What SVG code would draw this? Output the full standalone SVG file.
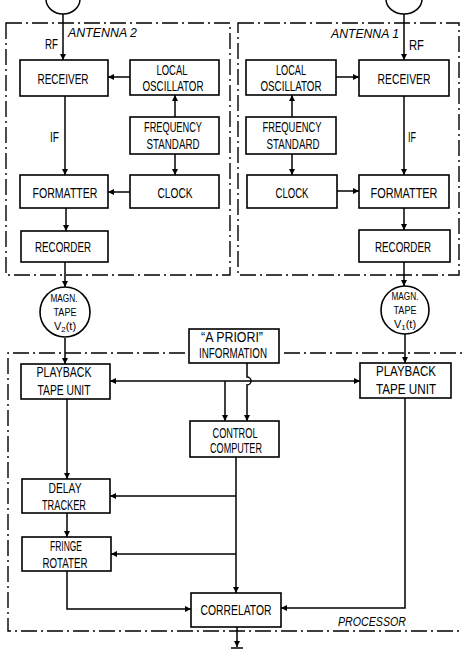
<svg xmlns="http://www.w3.org/2000/svg" width="462" height="652" viewBox="0 0 462 652">
<defs>
<marker id="ah" markerUnits="userSpaceOnUse" markerWidth="7" markerHeight="7" refX="6" refY="3.5" orient="auto"><path d="M0,0.5 L6,3.5 L0,6.5 z" fill="#000"/></marker>
</defs>
<style>
.bd{fill:none;stroke:#000;stroke-width:1.4;stroke-dasharray:16 4 2 4}
.box{fill:#fff;stroke:#000;stroke-width:1.6}
.ln{fill:none;stroke:#000;stroke-width:1.5}
.ar{marker-end:url(#ah)}
text{font-family:"Liberation Sans","DejaVu Sans",sans-serif;font-size:14px;fill:#000;text-anchor:middle}
.it{font-style:italic;text-anchor:start;font-size:13px}
.lb{text-anchor:start}
.tp{font-size:11px}
</style>
<rect width="462" height="652" fill="#fff"/>

<g id="borders">
<rect class="bd" x="6" y="23" width="224" height="252"/>
<rect class="bd" x="238" y="23" width="221" height="252"/>
<path class="bd" d="M185,353 H8 V631 H470"/>
<path class="bd" d="M284,353 H470"/>
</g>

<g id="labels">
<text class="it" x="68" y="37" textLength="69" lengthAdjust="spacingAndGlyphs">ANTENNA 2</text>
<text class="it" x="331" y="38" textLength="68" lengthAdjust="spacingAndGlyphs">ANTENNA 1</text>
<text class="it" x="338" y="626" textLength="68" lengthAdjust="spacingAndGlyphs">PROCESSOR</text>
<text class="lb" x="45" y="49" textLength="13" lengthAdjust="spacingAndGlyphs">RF</text>
<text class="lb" x="409" y="50" textLength="15" lengthAdjust="spacingAndGlyphs">RF</text>
<text class="lb" x="50" y="142" textLength="9" lengthAdjust="spacingAndGlyphs">IF</text>
<text class="lb" x="408" y="142" textLength="8" lengthAdjust="spacingAndGlyphs">IF</text>
</g>

<g id="connectors">
<path class="ln" d="M46,-1 A17,15 0 0 0 80,-1"/>
<path class="ln" d="M386,-1 A18,15 0 0 0 422,-1"/>
<path class="ln ar" d="M63,14 V60"/>
<path class="ln ar" d="M404,14 V60"/>
<path class="ln ar" d="M130,77 H108"/>
<path class="ln ar" d="M336,77 H359"/>
<path class="ln ar" d="M175,117 V95"/>
<path class="ln ar" d="M292,117 V95"/>
<path class="ln ar" d="M175,154 V175"/>
<path class="ln ar" d="M292,154 V175"/>
<path class="ln ar" d="M65,96 V175"/>
<path class="ln ar" d="M404,96 V175"/>
<path class="ln ar" d="M130,192 H108"/>
<path class="ln ar" d="M337,191 H359"/>
<path class="ln ar" d="M66,208 V231"/>
<path class="ln ar" d="M404,208 V230"/>
<path class="ln ar" d="M65,262 V287"/>
<path class="ln ar" d="M404,262 V286"/>
<path class="ln ar" d="M65,338 V364"/>
<path class="ln ar" d="M405,334 V363"/>
<path class="ln ar" d="M225,381 H110"/>
<path class="ln ar" d="M225,381 H360"/>
<path class="ln ar" d="M225,381 V421"/>
<path class="ln ar" d="M247,363 V377 A4,4 0 0 1 247,385 V421"/>
<path class="ln ar" d="M67,399 V479"/>
<path class="ln ar" d="M67,513 V537"/>
<path class="ln ar" d="M67,571 V609 H191"/>
<path class="ln ar" d="M236,457 V593"/>
<path class="ln ar" d="M236,496 H110"/>
<path class="ln ar" d="M236,554 H111"/>
<path class="ln ar" d="M405,398 V608 H281"/>
<path class="ln ar" d="M237,627 V647"/>
<path class="ln" d="M231,648 H243"/>
</g>

<g id="receiver2"><rect class="box" x="20" y="60" width="88" height="36"/><text x="63" y="84" textLength="51" lengthAdjust="spacingAndGlyphs">RECEIVER</text></g>
<g id="lo2"><rect class="box" x="130" y="60" width="89" height="35"/><text x="172" y="75" textLength="31" lengthAdjust="spacingAndGlyphs">LOCAL</text><text x="173" y="91" textLength="61" lengthAdjust="spacingAndGlyphs">OSCILLATOR</text></g>
<g id="fs2"><rect class="box" x="130" y="117" width="89" height="37"/><text x="173" y="132" textLength="58" lengthAdjust="spacingAndGlyphs">FREQUENCY</text><text x="173" y="149" textLength="53" lengthAdjust="spacingAndGlyphs">STANDARD</text></g>
<g id="formatter2"><rect class="box" x="20" y="175" width="88" height="33"/><text x="65" y="198" textLength="65" lengthAdjust="spacingAndGlyphs">FORMATTER</text></g>
<g id="clock2"><rect class="box" x="130" y="175" width="89" height="33"/><text x="175" y="198" textLength="35" lengthAdjust="spacingAndGlyphs">CLOCK</text></g>
<g id="recorder2"><rect class="box" x="21" y="231" width="87" height="31"/><text x="63" y="252" textLength="56" lengthAdjust="spacingAndGlyphs">RECORDER</text></g>
<g id="tape2"><circle class="box" cx="65" cy="312" r="25"/><text class="tp" x="64" y="302" textLength="27" lengthAdjust="spacingAndGlyphs">MAGN.</text><text class="tp" x="65" y="316" textLength="23" lengthAdjust="spacingAndGlyphs">TAPE</text><text class="tp" x="65" y="330">V<tspan font-size="8" baseline-shift="-2">2</tspan>(t)</text></g>

<g id="receiver1"><rect class="box" x="359" y="60" width="90" height="36"/><text x="404" y="84" textLength="53" lengthAdjust="spacingAndGlyphs">RECEIVER</text></g>
<g id="lo1"><rect class="box" x="246" y="60" width="90" height="35"/><text x="291" y="75" textLength="30" lengthAdjust="spacingAndGlyphs">LOCAL</text><text x="291" y="91" textLength="61" lengthAdjust="spacingAndGlyphs">OSCILLATOR</text></g>
<g id="fs1"><rect class="box" x="246" y="117" width="90" height="37"/><text x="292" y="132" textLength="59" lengthAdjust="spacingAndGlyphs">FREQUENCY</text><text x="293" y="149" textLength="53" lengthAdjust="spacingAndGlyphs">STANDARD</text></g>
<g id="clock1"><rect class="box" x="247" y="175" width="90" height="33"/><text x="292" y="198" textLength="33" lengthAdjust="spacingAndGlyphs">CLOCK</text></g>
<g id="formatter1"><rect class="box" x="359" y="175" width="90" height="33"/><text x="404" y="198" textLength="67" lengthAdjust="spacingAndGlyphs">FORMATTER</text></g>
<g id="recorder1"><rect class="box" x="359" y="230" width="91" height="32"/><text x="403" y="252" textLength="56" lengthAdjust="spacingAndGlyphs">RECORDER</text></g>
<g id="tape1"><circle class="box" cx="405" cy="310" r="24"/><text class="tp" x="405" y="300" textLength="27" lengthAdjust="spacingAndGlyphs">MAGN.</text><text class="tp" x="405" y="314" textLength="23" lengthAdjust="spacingAndGlyphs">TAPE</text><text class="tp" x="405" y="328">V<tspan font-size="8" baseline-shift="-2">1</tspan>(t)</text></g>

<g id="apriori"><rect class="box" x="189" y="329" width="90" height="34"/><text x="232" y="342" textLength="62" lengthAdjust="spacingAndGlyphs">“A PRIORI”</text><text x="233" y="358" textLength="68" lengthAdjust="spacingAndGlyphs">INFORMATION</text></g>
<g id="playback2"><rect class="box" x="21" y="364" width="89" height="35"/><text x="64" y="377" textLength="55" lengthAdjust="spacingAndGlyphs">PLAYBACK</text><text x="64" y="395" textLength="53" lengthAdjust="spacingAndGlyphs">TAPE UNIT</text></g>
<g id="playback1"><rect class="box" x="360" y="363" width="91" height="35"/><text x="406" y="376" textLength="60" lengthAdjust="spacingAndGlyphs">PLAYBACK</text><text x="406" y="394" textLength="60" lengthAdjust="spacingAndGlyphs">TAPE UNIT</text></g>
<g id="control"><rect class="box" x="190" y="421" width="89" height="36"/><text x="235" y="438" textLength="45" lengthAdjust="spacingAndGlyphs">CONTROL</text><text x="236" y="453" textLength="52" lengthAdjust="spacingAndGlyphs">COMPUTER</text></g>
<g id="delay"><rect class="box" x="22" y="479" width="88" height="34"/><text x="65" y="493" textLength="33" lengthAdjust="spacingAndGlyphs">DELAY</text><text x="64" y="510" textLength="44" lengthAdjust="spacingAndGlyphs">TRACKER</text></g>
<g id="fringe"><rect class="box" x="22" y="537" width="89" height="34"/><text x="66" y="551" textLength="32" lengthAdjust="spacingAndGlyphs">FRINGE</text><text x="65" y="568" textLength="45" lengthAdjust="spacingAndGlyphs">ROTATER</text></g>
<g id="correlator"><rect class="box" x="191" y="593" width="90" height="34"/><text x="236" y="615" textLength="71" lengthAdjust="spacingAndGlyphs">CORRELATOR</text></g>
</svg>
